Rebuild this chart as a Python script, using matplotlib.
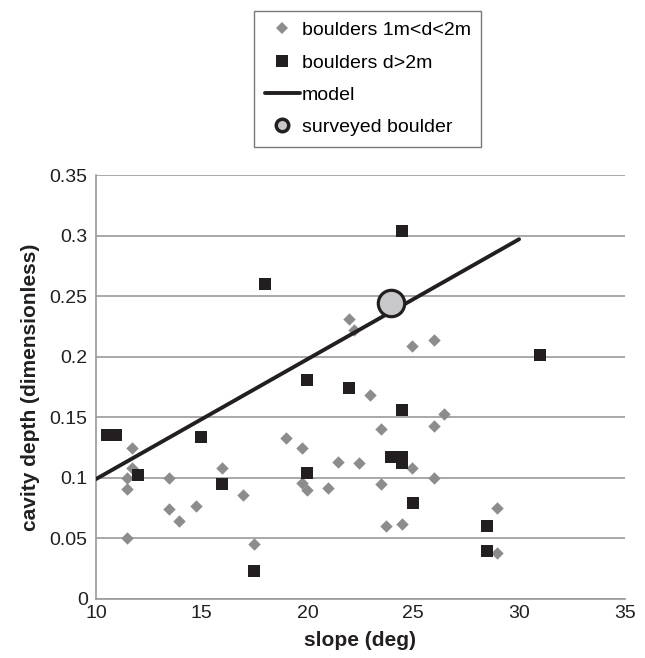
import matplotlib
matplotlib.use("Agg")
import matplotlib.pyplot as plt
from matplotlib.lines import Line2D

plt.rcParams['font.family'] = ['Liberation Sans', 'DejaVu Sans']

# boulders 1m<d<2m
small_x = [11.45, 11.47, 11.47, 11.72, 11.72, 13.45, 13.45, 13.94, 14.71, 15.95,
           16.96, 17.45, 18.96, 19.72, 19.72, 19.97, 20.95, 21.45, 21.94, 22.19,
           22.45, 22.96, 23.47, 23.47, 23.72, 24.46, 24.96, 24.96, 25.97, 25.97,
           25.97, 26.46, 28.97, 28.97]
small_y = [0.050, 0.091, 0.100, 0.125, 0.108, 0.100, 0.074, 0.064, 0.077, 0.108,
           0.086, 0.045, 0.133, 0.125, 0.096, 0.090, 0.092, 0.113, 0.231, 0.222,
           0.112, 0.168, 0.140, 0.095, 0.060, 0.062, 0.209, 0.108, 0.214, 0.143,
           0.100, 0.153, 0.075, 0.038]

# boulders d>2m
big_x = [10.5, 10.94, 11.97, 14.95, 15.95, 17.45, 17.99, 19.96, 19.96, 21.94,
         23.93, 24.46, 24.46, 24.46, 24.45, 24.98, 28.48, 28.48, 30.98]
big_y = [0.135, 0.135, 0.102, 0.134, 0.095, 0.023, 0.260, 0.104, 0.181, 0.174,
         0.117, 0.117, 0.112, 0.156, 0.304, 0.079, 0.060, 0.040, 0.2015]

# model line
model_x = [10, 30]
model_y = [0.099, 0.297]

# surveyed boulder
surveyed_x = [23.94]
surveyed_y = [0.2447]

labels = ['boulders 1m<d<2m', 'boulders d>2m', 'model', 'surveyed boulder']
gray = '#8c8c8c'
dark = '#231f20'

fig = plt.figure(figsize=(6.45, 6.58), dpi=100)
ax = fig.add_axes([0.1488, 0.0897, 0.82, 0.6443])

ax.scatter(small_x, small_y, marker='D', s=40, color=gray, linewidths=0, zorder=3)
ax.scatter(big_x, big_y, marker='s', s=78, color=dark, linewidths=0, zorder=3)
ax.plot(model_x, model_y, color=dark, lw=2.8, solid_capstyle='round', zorder=4)
ax.plot(surveyed_x, surveyed_y, 'o', ms=19, mfc='#c8c8ca', mec=dark, mew=2.3,
        zorder=5, linestyle='none')

ax.set_xlim(10, 35)
ax.set_ylim(0, 0.35)
ax.set_xticks([10, 15, 20, 25, 30, 35])
ax.set_yticks([0, 0.05, 0.1, 0.15, 0.2, 0.25, 0.3, 0.35])
ax.set_yticklabels(['0', '0.05', '0.1', '0.15', '0.2', '0.25', '0.3', '0.35'])
ax.yaxis.grid(True, color='#9a9a9a', lw=1.2)
ax.set_axisbelow(True)
for s in ['top', 'right']:
    ax.spines[s].set_visible(False)
for s in ['left', 'bottom']:
    ax.spines[s].set_color('#9a9a9a')
    ax.spines[s].set_linewidth(1.2)
ax.tick_params(length=0, labelsize=14, colors=dark)
ax.tick_params(axis='y', pad=6)
ax.tick_params(axis='x', pad=4)

ax.set_xlabel('slope (deg)', fontsize=15, fontweight='bold', labelpad=7, color=dark)
ax.set_ylabel('cavity depth (dimensionless)', fontsize=15, fontweight='bold',
              labelpad=7, color=dark)

handles = [
    Line2D([], [], marker='D', ms=6, color=gray, ls='none', mew=0),
    Line2D([], [], marker='s', ms=9, color=dark, ls='none', mew=0),
    Line2D([], [], color=dark, lw=2.8, solid_capstyle='round'),
    Line2D([], [], marker='o', ms=9, mfc='#c8c8ca', mec=dark, mew=2.5, ls='none'),
]
leg = fig.legend(handles, labels, loc='upper left', bbox_to_anchor=(254 / 645, 1 - 11 / 658),
                 fontsize=14, frameon=True, fancybox=False, edgecolor='#555555',
                 handlelength=1.8, handletextpad=0.1, labelspacing=0.75,
                 borderpad=0.55, borderaxespad=0)
leg.get_frame().set_linewidth(1.0)

fig.savefig('out.png', dpi=100)
